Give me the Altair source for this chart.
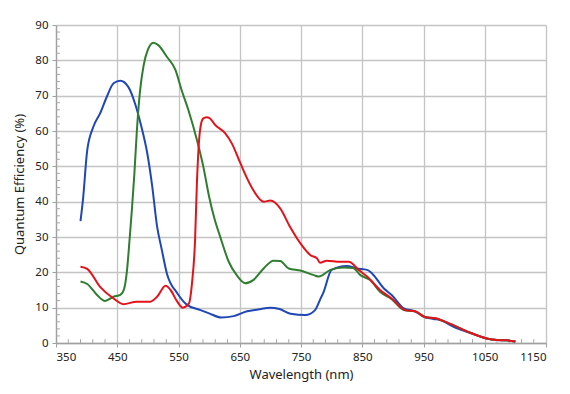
import altair as alt
import pandas as pd

# ---- data ----
blue_nm = [390, 394, 401, 411, 422, 433, 444, 455, 468, 479, 488, 499, 507, 515, 522, 531, 548, 564,
           586, 600, 620, 640, 662, 680, 700, 715, 733, 757, 773, 781, 787, 800, 825, 841, 858, 866,
           885, 898, 918, 937, 950, 966, 977, 999, 1026, 1053, 1070, 1086, 1100]
blue_qe = [34.5, 40.5, 54.6, 61.2, 65.0, 69.7, 73.5, 74.2, 72.5, 67.8, 62.2, 53.7, 44.5, 33.0, 27.0, 19.7, 14.1, 10.8,
           9.3, 8.4, 7.2, 7.6, 9.0, 9.5, 10.0, 9.6, 8.3, 7.9, 9.3, 12.2, 14.5, 20.7, 21.8, 21.1, 20.7, 19.7,
           15.5, 13.6, 9.8, 8.9, 7.5, 6.8, 6.5, 4.6, 2.9, 1.3, 0.85, 0.75, 0.4]

green_nm = [390, 401, 417, 430, 444, 455, 461, 466, 470, 474, 478, 482, 487, 493, 500, 509, 517, 531, 545, 555,
            566, 580, 591, 600, 609, 618, 632, 645, 659, 672, 689, 705, 716, 730, 749, 771, 779, 798, 820,
            835, 847, 863, 879, 898, 918, 937, 953, 969, 994, 1026, 1053, 1070, 1086, 1100]
green_qe = [17.4, 16.7, 13.6, 11.9, 13.1, 13.6, 15.2, 20.7, 29.0, 38.0, 48.0, 60.0, 71.0, 78.5, 83.0, 85.0, 84.3, 81.0, 77.3, 71.6,
            66.0, 57.5, 49.5, 41.4, 35.0, 30.1, 23.0, 19.2, 16.9, 17.8, 21.1, 23.3, 23.2, 21.1, 20.5, 19.2, 18.8, 20.7, 21.4,
            21.2, 19.2, 17.8, 14.5, 12.4, 9.3, 8.9, 7.3, 7.0, 5.4, 2.9, 1.3, 0.85, 0.75, 0.4]

red_nm = [390, 401, 422, 444, 460, 482, 504, 515, 529, 537, 548, 557, 567, 572, 577, 580, 585, 590, 596,
          601, 610, 626, 637, 651, 662, 672, 689, 700, 716, 732, 749, 760, 765, 776, 781, 792, 814, 828,
          844, 858, 879, 898, 920, 937, 953, 969, 994, 1026, 1053, 1070, 1086, 1100]
red_qe = [21.6, 21.0, 15.9, 12.6, 11.0, 11.7, 11.7, 13.1, 16.2, 15.0, 11.7, 10.0, 11.2, 16.9, 29.0, 45.0, 60.0, 63.5, 63.9,
          63.6, 61.7, 59.4, 56.5, 50.9, 46.6, 43.3, 40.0, 40.3, 38.1, 32.9, 28.2, 25.8, 24.9, 24.0, 22.7, 23.3, 23.0, 23.0,
          20.7, 18.8, 15.0, 12.6, 9.3, 8.9, 7.3, 7.0, 5.4, 2.9, 1.3, 0.85, 0.75, 0.4]

x_ticks = [350, 450, 550, 650, 750, 850, 950, 1050, 1150]
y_ticks = [0, 10, 20, 30, 40, 50, 60, 70, 80, 90]
x_minor = [v for v in range(350, 1151, 20) if (v - 350) % 100 != 0]
y_minor = [v for v in range(0, 91, 2) if v % 10 != 0]

series_names = ["Blue", "Green", "Red"]
series_colors = ["#1f47b5", "#2f7d2f", "#e3131b"]

rows = []
for name, xs, ys in [("Blue", blue_nm, blue_qe), ("Green", green_nm, green_qe), ("Red", red_nm, red_qe)]:
    for i, (a, b) in enumerate(zip(xs, ys)):
        rows.append({"series": name, "nm": a, "qe": b, "order": i})
df = pd.DataFrame(rows)

FONT = "Noto Sans"
x_scale = alt.Scale(domain=[350, 1150], nice=False, zero=False)
y_scale = alt.Scale(domain=[0, 90], nice=False)

common = dict(grid=True, gridColor="#c4c4c4", gridWidth=1.3,
              domainColor="#a0a0a0", domainWidth=1.3, tickColor="#a0a0a0", tickSize=4,
              labelFont=FONT, labelFontSize=11.5, labelColor="#222", labelPadding=4, labelOverlap=False,
              titleFont=FONT, titleFontSize=13, titleFontWeight="normal", titleColor="#222")
x_axis = alt.Axis(values=x_ticks, title="Wavelength (nm)", format="d", titlePadding=6, **common)
y_axis = alt.Axis(values=y_ticks, title="Quantum Efficiency (%)", titlePadding=8, **common)

lines = alt.Chart(df).mark_line(strokeWidth=2, interpolate="monotone").encode(
    x=alt.X("nm:Q", scale=x_scale, axis=x_axis),
    y=alt.Y("qe:Q", scale=y_scale, axis=y_axis),
    color=alt.Color("series:N", scale=alt.Scale(domain=series_names, range=series_colors), legend=None),
    order="order:Q",
    detail="series:N",
)

xm = pd.DataFrame({"nm": x_minor, "y0": [0] * len(x_minor), "y1": [1.1] * len(x_minor)})
ym = pd.DataFrame({"qe": y_minor, "x0": [350] * len(y_minor), "x1": [356.5] * len(y_minor)})

xminor = alt.Chart(xm).mark_rule(color="#a8a8a8", strokeWidth=1).encode(
    x=alt.X("nm:Q", scale=x_scale, axis=x_axis),
    y=alt.Y("y0:Q", scale=y_scale, axis=y_axis), y2="y1:Q")
yminor = alt.Chart(ym).mark_rule(color="#a8a8a8", strokeWidth=1).encode(
    y=alt.Y("qe:Q", scale=y_scale, axis=y_axis),
    x=alt.X("x0:Q", scale=x_scale, axis=x_axis), x2="x1:Q")

layers = []
for name in series_names:
    layers.append(lines.transform_filter(alt.datum.series == name))

chart = alt.layer(xminor, yminor, *layers).properties(
    width=490, height=318,
    autosize=alt.AutoSizeParams(type="none"),
    padding={"left": 48, "top": 17, "right": 10, "bottom": 40},
).configure_view(stroke="#8a8a8a", strokeWidth=1.5).configure(background="white")

chart.save("out.html", embed_options={"renderer": "svg", "actions": False})
